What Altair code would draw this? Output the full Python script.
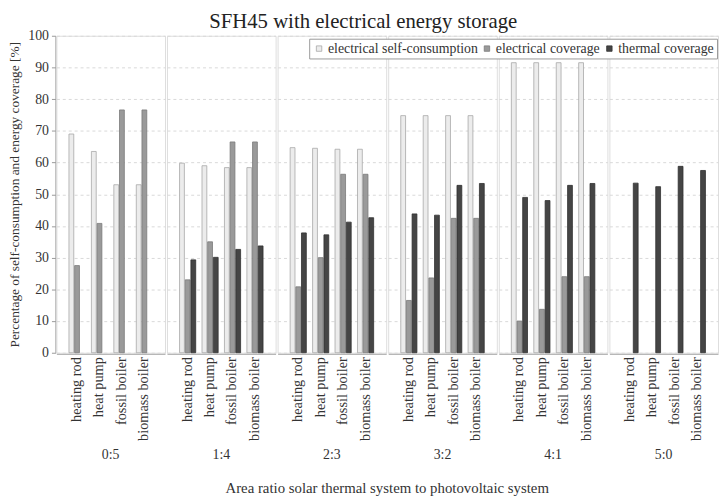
import altair as alt
import pandas as pd

groups = ["0:5", "1:4", "2:3", "3:2", "4:1", "5:0"]
subcats = ["heating rod", "heat pump", "fossil boiler", "biomass boiler"]
series = ["electrical self-consumption", "electrical coverage", "thermal coverage"]

self_consumption = [69.0, 63.5, 53.0, 53.0,
                    59.8, 59.0, 58.4, 58.4,
                    64.7, 64.5, 64.2, 64.2,
                    74.8, 74.8, 74.8, 74.8,
                    91.5, 91.5, 91.5, 91.5,
                    0, 0, 0, 0]
elec_coverage = [27.5, 40.8, 76.6, 76.6,
                 23.0, 35.0, 66.5, 66.5,
                 20.8, 30.0, 56.3, 56.3,
                 16.5, 23.6, 42.4, 42.4,
                 10.0, 13.7, 24.0, 24.0,
                 0, 0, 0, 0]
thermal_coverage = [0, 0, 0, 0,
                    29.3, 30.1, 32.6, 33.7,
                    37.8, 37.2, 41.2, 42.6,
                    43.8, 43.4, 52.8, 53.4,
                    49.0, 48.0, 52.8, 53.4,
                    53.5, 52.4, 58.8, 57.5]

rows = []
for gi, g in enumerate(groups):
    for si, s in enumerate(subcats):
        k = gi * 4 + si
        for name, vals in zip(series, [self_consumption, elec_coverage, thermal_coverage]):
            rows.append({"group": g, "system": s, "series": name, "value": vals[k]})
df = pd.DataFrame(rows)

FONT = "Liberation Serif"

bars = alt.Chart(df).transform_filter(alt.datum.value > 0).mark_bar(strokeWidth=0.8).encode(
    x=alt.X("system:N", sort=subcats, title=None,
            scale=alt.Scale(paddingInner=0.28, paddingOuter=0.56),
            axis=alt.Axis(labelAngle=270, ticks=False, labelFontSize=14.5, labelColor="#333",
                          labelPadding=3, domainColor="#999", labelFont=FONT)),
    xOffset=alt.XOffset("series:N", sort=series, scale=alt.Scale(domain=series, paddingInner=0.15)),
    y=alt.Y("value:Q", title="Percentage of self-consumption and energy coverage [%]",
            scale=alt.Scale(domain=[0, 100]),
            axis=alt.Axis(values=list(range(0, 101, 10)), grid=True, gridDash=[3, 3],
                          gridColor="#d8d8d8", tickColor="#999", domainColor="#999",
                          labelFontSize=14, labelColor="#333", titleFontSize=13.5,
                          titleFontWeight="normal", titleColor="#333", labelFont=FONT,
                          titleFont=FONT, tickSize=4, labelPadding=3, titlePadding=6)),
    fill=alt.Fill("series:N", sort=series,
                  scale=alt.Scale(domain=series, range=["#ececec", "#9a9a9a", "#454545"]),
                  legend=alt.Legend(title=None, orient="none", direction="horizontal",
                                    legendX=256, legendY=3, symbolType="square",
                                    symbolSize=30, symbolStrokeWidth=0.8,
                                    labelFontSize=14, labelFont=FONT, labelColor="#333",
                                    strokeColor="#999", fillColor="white", padding=3,
                                    columnPadding=2, symbolOffset=0, labelOffset=2)),
    stroke=alt.Stroke("series:N", sort=series,
                      scale=alt.Scale(domain=series, range=["#a8a8a8", "#7a7a7a", "#303030"]),
                      legend=None),
).properties(width=110, height=321)

chart = bars.facet(
    column=alt.Column("group:N", sort=groups,
                      header=alt.Header(labelOrient="bottom", titleOrient="bottom",
                                        labelFontSize=14, labelFont=FONT, labelColor="#333",
                                        labelPadding=8,
                                        title="Area ratio solar thermal system to photovoltaic system",
                                        titleFontSize=15, titleFont=FONT, titleColor="#333",
                                        titleFontWeight="normal", titlePadding=9)),
    spacing=0,
).properties(
    padding=0,
    title=alt.TitleParams("SFH45 with electrical energy storage", fontSize=21, font=FONT,
                          fontWeight="normal", color="#222", anchor="middle", offset=-3)
).configure_view(stroke="#999", strokeWidth=1).configure(background="white")

chart.save("out.html", embed_options={"renderer": "svg", "actions": False})
